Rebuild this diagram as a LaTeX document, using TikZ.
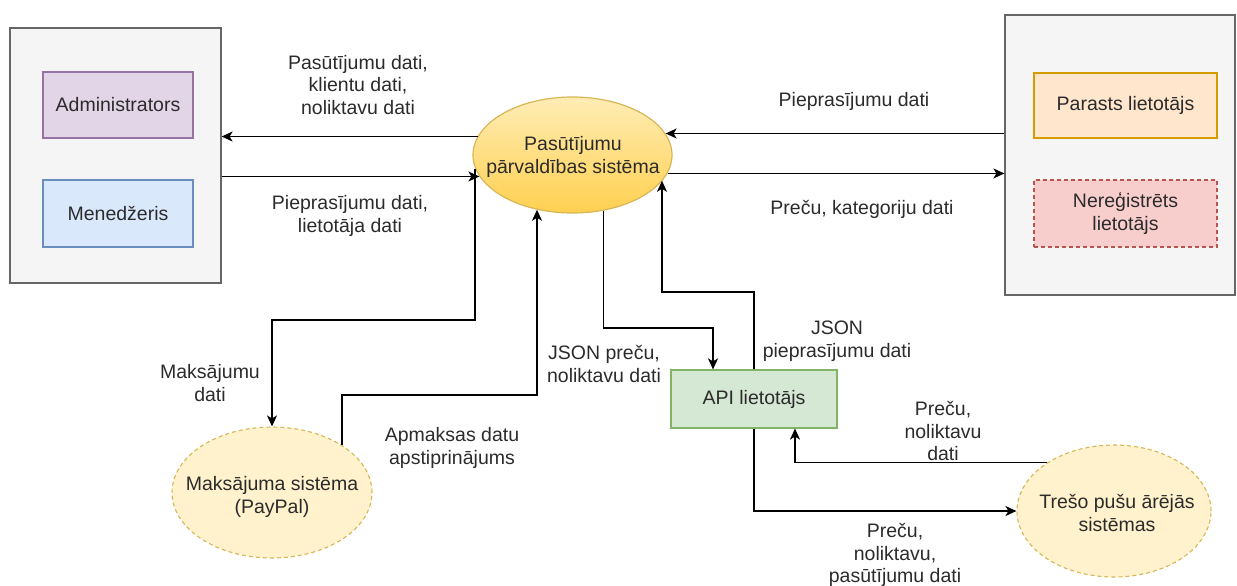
\documentclass[tikz,border=0pt]{standalone}
\usepackage{fontspec}
\setmainfont{Liberation Sans}
\usetikzlibrary{arrows.meta,shapes.geometric,calc}

\definecolor{txt}{HTML}{2B2B2B}
\definecolor{grpfill}{HTML}{F5F5F5}
\definecolor{grpline}{HTML}{666666}
\definecolor{purfill}{HTML}{E1D5E7}
\definecolor{purline}{HTML}{9673A6}
\definecolor{blufill}{HTML}{DAE8FC}
\definecolor{bluline}{HTML}{6C8EBF}
\definecolor{orafill}{HTML}{FFE6CC}
\definecolor{oraline}{HTML}{D79B00}
\definecolor{redfill}{HTML}{F8CECC}
\definecolor{redline}{HTML}{B85450}
\definecolor{grnfill}{HTML}{D5E8D4}
\definecolor{grnline}{HTML}{82B366}
\definecolor{yelfill}{HTML}{FFF2CC}
\definecolor{yelline}{HTML}{D6B656}
\definecolor{yeltop}{HTML}{FFEDB5}
\definecolor{yelbot}{HTML}{FFD050}

\tikzset{
  every node/.style={font=\fontsize{19.5}{22.5}\selectfont, text=txt, align=center},
  group/.style={rectangle, draw=grpline, fill=grpfill, line width=1.2pt, inner sep=0pt},
  actor/.style={rectangle, line width=1.2pt, inner sep=0pt},
  proc/.style={ellipse, line width=1.2pt, inner sep=0pt},
  ext/.style={ellipse, draw=yelline, fill=yelfill, dash pattern=on 4pt off 3pt, line width=1.1pt, inner sep=0pt},
  lbl/.style={inner sep=0pt},
  arr/.style={draw=black, line width=1.6pt, -{Stealth[length=11pt,width=10pt,inset=3pt]}},
}

\begin{document}
\begin{tikzpicture}[x=1pt,y=-1pt]
\useasboundingbox (0,0) rectangle (1237,586);

% left user group
\node[group, minimum width=211pt, minimum height=255pt] (leftbox) at (115.5,155.5) {};
\node[actor, draw=purline, fill=purfill, minimum width=150pt, minimum height=66pt] (admin) at (118,105) {Administrators};
\node[actor, draw=bluline, fill=blufill, minimum width=150pt, minimum height=67pt] (mgr) at (118,213.5) {Menedžeris};

% right user group
\node[group, minimum width=230pt, minimum height=280pt] (rightbox) at (1120,155) {};
\node[actor, draw=oraline, fill=orafill, minimum width=183pt, minimum height=65pt] (regular) at (1125.5,105.5) {Parasts lietotājs};
\node[actor, draw=redline, fill=redfill, dash pattern=on 4pt off 3pt, minimum width=183pt, minimum height=67pt] (guest) at (1125.5,213.5) {Nereģistrēts\\lietotājs};

% central process (shape and caption set apart so the ellipse keeps its size)
\node[proc, draw=yelline, top color=yeltop, bottom color=yelbot, minimum width=199pt, minimum height=116pt] (main) at (572.5,155) {};
\node (maintext) at (573,157) {Pasūtījumu\\pārvaldības sistēma};

% external systems
\node[ext, minimum width=200pt, minimum height=131pt] (pay) at (272,492.5) {};
\node (paytext) at (272,497) {Maksājuma sistēma\\(PayPal)};
\node[actor, draw=grnline, fill=grnfill, minimum width=166pt, minimum height=58pt] (api) at (754,399) {API lietotājs};
\node[ext, minimum width=194pt, minimum height=132pt] (tre) at (1114,511) {};
\node (tretext) at (1117,513) {Trešo pušu ārējās\\sistēmas};

% bend points
\coordinate (j1) at (272,320);
\coordinate (j2) at (537,395);
\coordinate (j3) at (713,328);
\coordinate (j4) at (662,292);
\coordinate (j5) at (795,464);

% flows between the process and the user groups
\draw[arr] (main.169) -- (main.169 -| leftbox.east);
\draw[arr] (leftbox.east |- main.193) -- (main.193);
\draw[arr] (rightbox.west |- main.13) -- (main.13);
\draw[arr] (main.349) -- (main.349 -| rightbox.west);

% payment system
\draw[arr] (main.188) |- (j1) -- (pay.north);
\draw[arr] (pay.34) |- (j2) -- (j2 |- main.237);

% API user
\draw[arr] (main.299) |- (j3) -- (j3 |- api.north);
\draw[arr] (api.north) |- (j4) -- (j4 |- main.344);

% third-party systems
\draw[arr] (tre.144) -| (j5 |- api.south);
\draw[arr] (api.south) |- (tre.west);

% flow labels
\node[lbl] (l1) at (358,85) {Pasūtījumu dati,\\klientu dati,\\noliktavu dati};
\node[lbl] (l2) at (350,216) {Pieprasījumu dati,\\lietotāja dati};
\node[lbl] (l3) at (854,101) {Pieprasījumu dati};
\node[lbl] (l4) at (862,209) {Preču, kategoriju dati};
\node[lbl] (l5) at (210,383) {Maksājumu\\dati};
\node[lbl] (l6) at (452,448) {Apmaksas datu\\apstiprinājums};
\node[lbl] (l7) at (604,364) {JSON preču,\\noliktavu dati};
\node[lbl] (l8) at (837,341) {JSON\\pieprasījumu dati};
\node[lbl] (l9) at (943,431) {Preču,\\noliktavu\\dati};
\node[lbl] (l10) at (895,555) {Preču,\\noliktavu,\\pasūtījumu dati};
\end{tikzpicture}
\end{document}
